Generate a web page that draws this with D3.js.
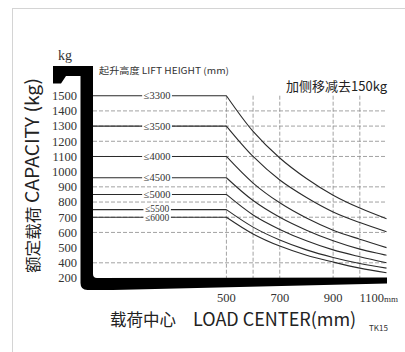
<!DOCTYPE html>
<html>
<head>
<meta charset="utf-8">
<script src="https://cdn.jsdelivr.net/npm/d3@7"></script>
<style>
  body { margin: 0; background: #fff; }
  svg { display: block; }
  .serif { font-family: "Liberation Serif", "DejaVu Serif", serif; }
  .sans { font-family: "Noto Sans CJK SC", "Noto Sans", sans-serif; }
</style>
</head>
<body>
<svg id="chart" width="405" height="352"></svg>
<script>
// load centre (mm) where each capacity reading was taken
const loadCenters = [0, 500, 600, 700, 800, 900, 1000, 1100];

const liftHeights = ["≤3300", "≤3500", "≤4000", "≤4500", "≤5000", "≤5500", "≤6000"];
const cap3300 = [1500, 1500, 1265, 1090, 955, 845, 760, 690];
const cap3500 = [1300, 1300, 1100, 945, 830, 735, 665, 605];
const cap4000 = [1100, 1100, 925, 795, 695, 615, 555, 500];
const cap4500 = [960, 960, 810, 700, 615, 545, 490, 450];
const cap5000 = [850, 850, 715, 620, 545, 485, 440, 400];
const cap5500 = [750, 750, 635, 550, 485, 435, 395, 365];
const cap6000 = [700, 700, 590, 510, 450, 405, 365, 335];
const capacities = [cap3300, cap3500, cap4000, cap4500, cap5000, cap5500, cap6000];

const yTickValues = [1500, 1400, 1300, 1200, 1100, 1000, 900, 800, 700, 600, 500, 400, 300];
const yTickLabels = ["1500", "1400", "1300", "1200", "1100", "1000", "900", "800", "700", "600", "500", "400", "200"];
const xTickValues = [500, 700, 900, 1100];
const xTickLabels = ["500", "700", "900", "1100"];
const hGrid = [1400, 1300, 1200, 1100, 900, 800, 700, 600, 400];
const vGrid = [500, 600, 700, 900, 1000];

const svg = d3.select("#chart");

// light frame around the sheet
svg.append("rect")
    .attr("x", 12.5).attr("y", 8.5)
    .attr("width", 400).attr("height", 350)
    .attr("fill", "none")
    .attr("stroke", "#d4d4d4");

const x = d3.scaleLinear()
    .domain([0, 1100])
    .range([93, 386.5]);

const y = d3.scaleLinear()
    .domain([300, 1500])
    .range([278, 95.7]);

// dashed grid
svg.append("g")
    .selectAll("line")
    .data(hGrid)
    .join("line")
    .attr("x1", x(0)).attr("x2", x(1100))
    .attr("y1", d => y(d)).attr("y2", d => y(d))
    .attr("stroke", "#8a8a8a")
    .attr("stroke-width", 0.8)
    .attr("stroke-dasharray", "4,2");

svg.append("g")
    .selectAll("line")
    .data(vGrid)
    .join("line")
    .attr("x1", d => x(d)).attr("x2", d => x(d))
    .attr("y1", y(1500)).attr("y2", y(300))
    .attr("stroke", "#8a8a8a")
    .attr("stroke-width", 0.8)
    .attr("stroke-dasharray", "4,2");

// capacity curves: flat up to 500mm, then a smooth fall-off
const flat = d3.line()
    .x(d => x(d[0]))
    .y(d => y(d[1]));
const falloff = d3.line()
    .x(d => x(d[0]))
    .y(d => y(d[1]))
    .curve(d3.curveCatmullRom.alpha(0.5));

svg.append("g")
    .selectAll("path")
    .data(capacities)
    .join("path")
    .attr("d", vals => {
        const pts = vals.map((v, i) => [loadCenters[i], v]);
        return flat(pts.slice(0, 2)) + falloff(pts.slice(1));
    })
    .attr("fill", "none")
    .attr("stroke", "#2b2b2b")
    .attr("stroke-width", 1.1);

// lift height labels sitting on the flat part of each line
const labelShift = [0, 0, 0, 0, 0, -1, 1];
const labelG = svg.append("g");
liftHeights.forEach((lab, i) => {
    const ly = y(capacities[i][0]) + labelShift[i];
    const t = labelG.append("text")
        .attr("class", "serif")
        .attr("x", x(240))
        .attr("y", ly)
        .attr("dy", "0.33em")
        .attr("text-anchor", "middle")
        .attr("font-size", i >= 5 ? 9.5 : 10.5)
        .attr("fill", "#333")
        .text(lab);
    const b = t.node().getBBox();
    labelG.insert("rect", "text")
        .attr("x", b.x - 1.5).attr("y", y(capacities[i][0]) - 2)
        .attr("width", b.width + 3).attr("height", 4)
        .attr("fill", "#fff");
});

// the fork drawn as the axes
const x0 = x(0), yb = y(300), xr = x(1100) + 0.5;
const fork = d3.path();
fork.moveTo(53, 66);
fork.lineTo(x0, 66);
fork.lineTo(x0, yb - 4);
fork.quadraticCurveTo(x0, yb, x0 + 4, yb);
fork.lineTo(xr, yb - 0.5);
fork.lineTo(xr, 283.5);
fork.lineTo(x0 + 20, 290);
fork.lineTo(80.5 + 7, 290);
fork.quadraticCurveTo(80.5, 290, 80.5, 283);
fork.lineTo(80.5, 76);
fork.lineTo(66, 76);
fork.lineTo(61, 83.5);
fork.lineTo(53, 83.5);
fork.closePath();
svg.append("path")
    .attr("d", fork.toString())
    .attr("fill", "#000");

// y tick labels
svg.append("g")
    .selectAll("text")
    .data(yTickValues)
    .join("text")
    .attr("class", "serif")
    .attr("x", 77)
    .attr("y", d => y(d))
    .attr("dy", "0.35em")
    .attr("text-anchor", "end")
    .attr("font-size", 12.5)
    .attr("fill", "#333")
    .text((d, i) => yTickLabels[i]);

svg.append("text")
    .attr("class", "serif")
    .attr("x", 65).attr("y", 60)
    .attr("text-anchor", "middle")
    .attr("font-size", 14)
    .attr("fill", "#333")
    .text("kg");

// x tick labels
const xt = svg.append("g")
    .selectAll("text")
    .data(xTickValues)
    .join("text")
    .attr("class", "serif")
    .attr("x", d => d === 1100 ? x(d) - 27 : x(d))
    .attr("y", 302)
    .attr("text-anchor", d => d === 1100 ? "start" : "middle")
    .attr("font-size", 12.5)
    .attr("fill", "#333")
    .text((d, i) => xTickLabels[i]);
xt.filter(d => d === 1100)
    .append("tspan")
    .attr("font-size", 9)
    .text("mm");

// titles
svg.append("text")
    .attr("class", "sans")
    .attr("x", 99).attr("y", 74)
    .attr("font-size", 9)
    .attr("fill", "#333")
    .attr("textLength", 130)
    .attr("lengthAdjust", "spacingAndGlyphs")
    .text("起升高度 LIFT HEIGHT (mm)");

svg.append("text")
    .attr("class", "sans")
    .attr("x", 387).attr("y", 91)
    .attr("text-anchor", "end")
    .attr("font-size", 13)
    .attr("fill", "#222")
    .text("加侧移减去150kg");

svg.append("text")
    .attr("class", "sans")
    .attr("transform", "translate(39,273) rotate(-90)")
    .attr("fill", "#222")
    .attr("textLength", 195)
    .attr("lengthAdjust", "spacingAndGlyphs")
    .call(t => t.append("tspan").attr("font-size", 15.5).text("额定载荷 "))
    .call(t => t.append("tspan").attr("font-size", 18).text("CAPACITY (kg)"));

svg.append("text")
    .attr("class", "sans")
    .attr("x", 110).attr("y", 326)
    .attr("fill", "#222")
    .call(t => t.append("tspan").attr("font-size", 16.5).text("载荷中心"))
    .call(t => t.append("tspan").attr("x", 193).attr("font-size", 18).text("LOAD CENTER(mm)"));

svg.append("text")
    .attr("class", "sans")
    .attr("x", 369).attr("y", 331)
    .attr("font-size", 8)
    .attr("fill", "#333")
    .text("TK15");
</script>
</body>
</html>
